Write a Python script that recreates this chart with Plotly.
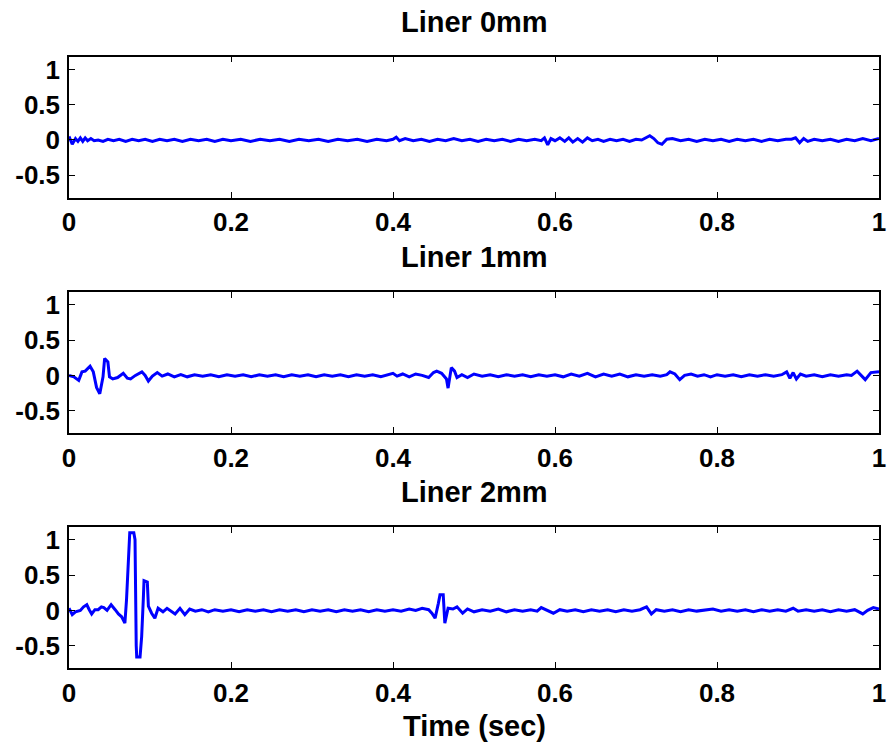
import plotly.graph_objects as go

# ---------------- data ----------------
titles = ["Liner 0mm", "Liner 1mm", "Liner 2mm"]
x_label = "Time (sec)"
x_ticks = [0, 0.2, 0.4, 0.6, 0.8, 1]
x_ticktext = ["0", "0.2", "0.4", "0.6", "0.8", "1"]
y_ticks = [-0.5, 0, 0.5, 1]
y_ticktext = ["-0.5", "0", "0.5", "1"]

t0 = [0.000, 0.004, 0.008, 0.011, 0.014, 0.017, 0.020, 0.023, 0.027, 0.031,
      0.036, 0.042, 0.048, 0.055, 0.062, 0.070, 0.078, 0.086, 0.094, 0.103,
      0.112, 0.121, 0.130, 0.140, 0.150, 0.160, 0.170, 0.180, 0.190, 0.200,
      0.212, 0.224, 0.236, 0.248, 0.260, 0.272, 0.284, 0.296, 0.308, 0.320,
      0.332, 0.344, 0.356, 0.368, 0.380, 0.392, 0.400, 0.404, 0.408, 0.415,
      0.425, 0.435, 0.445, 0.455, 0.465, 0.475, 0.485, 0.495, 0.505, 0.515,
      0.525, 0.535, 0.545, 0.555, 0.565, 0.575, 0.583, 0.587, 0.591, 0.595,
      0.600, 0.606, 0.612, 0.617, 0.622, 0.628, 0.634, 0.640, 0.646, 0.653,
      0.660, 0.668, 0.676, 0.684, 0.692, 0.700, 0.707, 0.712, 0.717, 0.722,
      0.727, 0.732, 0.738, 0.745, 0.755, 0.765, 0.775, 0.785, 0.795, 0.805,
      0.815, 0.825, 0.835, 0.845, 0.855, 0.865, 0.875, 0.885, 0.892, 0.897,
      0.902, 0.907, 0.912, 0.920, 0.930, 0.940, 0.950, 0.960, 0.970, 0.980,
      0.990, 1.000]
v0 = [0.05, -0.06, 0.02, -0.02, 0.03, -0.02, 0.03, -0.01, 0.02, -0.01,
      0.00, -0.02, 0.01, -0.01, 0.01, -0.02, 0.01, -0.01, 0.01, -0.02,
      0.01, -0.01, 0.01, -0.02, 0.01, -0.01, 0.01, -0.02, 0.01, -0.01,
      0.01, -0.02, 0.01, -0.01, 0.01, -0.02, 0.01, -0.01, 0.01, -0.02,
      0.01, -0.01, 0.01, -0.02, 0.01, -0.01, 0.01, 0.04, -0.01, 0.02,
      -0.01, 0.01, -0.02, 0.01, -0.01, 0.02, -0.01, 0.01, -0.02, 0.01,
      -0.01, 0.01, -0.02, 0.01, -0.01, 0.01, -0.01, 0.03, -0.07, 0.02,
      -0.01, 0.03, -0.02, 0.03, -0.03, 0.02, -0.03, 0.03, -0.01, 0.01,
      -0.02, 0.01, -0.01, 0.01, -0.02, 0.01, 0.00, 0.03, 0.06, 0.02,
      -0.04, -0.06, 0.01, 0.02, -0.01, 0.01, -0.02, 0.01, -0.01, 0.01,
      -0.02, 0.01, -0.01, 0.01, -0.02, 0.01, -0.01, 0.01, 0.01, 0.03,
      -0.04, 0.02, -0.02, 0.01, -0.01, 0.01, -0.02, 0.01, -0.01, 0.02,
      -0.01, 0.02]

t1 = [0.000, 0.006, 0.012, 0.016, 0.020, 0.026, 0.030, 0.034, 0.038, 0.042,
      0.044, 0.048, 0.050, 0.054, 0.060, 0.067, 0.072, 0.076, 0.082, 0.090,
      0.094, 0.098, 0.103, 0.109, 0.115, 0.122, 0.130, 0.138, 0.146, 0.155,
      0.165, 0.175, 0.185, 0.195, 0.205, 0.215, 0.225, 0.235, 0.245, 0.255,
      0.265, 0.275, 0.285, 0.295, 0.305, 0.315, 0.325, 0.335, 0.345, 0.355,
      0.365, 0.375, 0.385, 0.395, 0.400, 0.405, 0.412, 0.420, 0.428, 0.436,
      0.444, 0.450, 0.454, 0.460, 0.466, 0.468, 0.472, 0.476, 0.479, 0.485,
      0.492, 0.500, 0.510, 0.520, 0.530, 0.540, 0.550, 0.560, 0.570, 0.580,
      0.590, 0.600, 0.610, 0.620, 0.630, 0.640, 0.650, 0.660, 0.670, 0.680,
      0.690, 0.700, 0.710, 0.720, 0.730, 0.738, 0.742, 0.748, 0.754, 0.760,
      0.768, 0.776, 0.784, 0.792, 0.800, 0.810, 0.820, 0.830, 0.840, 0.850,
      0.860, 0.870, 0.880, 0.886, 0.890, 0.894, 0.898, 0.903, 0.910, 0.920,
      0.930, 0.940, 0.950, 0.960, 0.966, 0.973, 0.979, 0.983, 0.990, 1.000]
v1 = [0.00, -0.02, -0.07, 0.05, 0.06, 0.13, 0.05, -0.17, -0.26, -0.02,
      0.24, 0.19, -0.02, -0.05, -0.03, 0.03, -0.04, -0.05, 0.00, 0.05,
      0.00, -0.08, -0.01, 0.04, -0.01, 0.02, -0.02, 0.01, -0.02, 0.01,
      -0.01, 0.01, -0.02, 0.01, -0.01, 0.01, -0.02, 0.01, -0.01, 0.01,
      -0.02, 0.01, -0.01, 0.01, -0.02, 0.01, -0.01, 0.01, -0.02, 0.01,
      -0.01, 0.01, -0.02, 0.01, 0.03, -0.01, 0.02, -0.02, 0.02, 0.00,
      -0.03, 0.04, 0.06, 0.03, -0.05, -0.18, 0.11, 0.06, -0.03, 0.01,
      -0.03, 0.02, -0.01, 0.01, -0.02, 0.01, -0.01, 0.01, -0.02, 0.01,
      -0.01, 0.01, -0.02, 0.02, -0.01, 0.03, -0.02, 0.02, -0.01, 0.02,
      -0.02, 0.01, -0.01, 0.01, -0.01, 0.01, 0.05, 0.02, -0.06, 0.00,
      0.02, -0.01, 0.01, -0.02, 0.01, -0.01, 0.01, -0.02, 0.01, -0.01,
      0.01, -0.01, 0.01, 0.05, -0.04, 0.04, -0.05, 0.02, -0.01, 0.01,
      -0.02, 0.01, -0.01, 0.01, 0.00, 0.06, -0.01, -0.06, 0.04, 0.05]

t2 = [0.000, 0.004, 0.008, 0.014, 0.018, 0.022, 0.025, 0.028, 0.032, 0.036,
      0.040, 0.043, 0.047, 0.052, 0.057, 0.061, 0.065, 0.069, 0.071, 0.073,
      0.075, 0.080, 0.0815, 0.083, 0.0836, 0.0877, 0.0897, 0.0917, 0.0926, 0.0967,
      0.098, 0.102, 0.106, 0.110, 0.116, 0.121, 0.126, 0.131, 0.137, 0.143,
      0.149, 0.156, 0.164, 0.172, 0.180, 0.190, 0.200, 0.210, 0.220, 0.230,
      0.240, 0.250, 0.260, 0.270, 0.280, 0.290, 0.300, 0.310, 0.320, 0.330,
      0.340, 0.350, 0.360, 0.370, 0.380, 0.390, 0.400, 0.410, 0.420, 0.428,
      0.436, 0.444, 0.448, 0.452, 0.456, 0.458, 0.462, 0.464, 0.468, 0.474,
      0.479, 0.486, 0.492, 0.500, 0.510, 0.520, 0.530, 0.540, 0.550, 0.560,
      0.570, 0.578, 0.583, 0.590, 0.598, 0.606, 0.615, 0.625, 0.635, 0.645,
      0.655, 0.665, 0.675, 0.685, 0.695, 0.705, 0.713, 0.719, 0.725, 0.735,
      0.745, 0.755, 0.765, 0.775, 0.785, 0.795, 0.805, 0.815, 0.825, 0.835,
      0.845, 0.855, 0.865, 0.875, 0.885, 0.894, 0.900, 0.910, 0.920, 0.930,
      0.940, 0.950, 0.960, 0.970, 0.980, 0.986, 0.993, 1.000]
v2 = [0.03, -0.06, -0.02, 0.00, 0.05, 0.08, 0.01, -0.05, 0.01, 0.01,
      0.05, 0.04, 0.00, 0.08, 0.01, -0.05, -0.09, -0.18, 0.15, 0.74,
      1.10, 1.10, 1.00, -0.50, -0.66, -0.66, -0.37, 0.15, 0.42, 0.40,
      0.06, -0.04, -0.11, 0.03, -0.02, 0.03, -0.01, -0.05, 0.03, -0.06,
      0.02, -0.01, 0.01, -0.02, 0.01, -0.01, 0.01, -0.02, 0.01, -0.01,
      0.01, -0.02, 0.01, -0.01, 0.01, -0.02, 0.01, -0.01, 0.01, -0.02,
      0.01, -0.01, 0.01, -0.02, 0.01, -0.01, 0.01, -0.01, 0.02, 0.00,
      0.03, 0.01, -0.04, -0.11, 0.10, 0.22, 0.22, -0.18, 0.03, 0.02,
      0.05, -0.04, 0.02, -0.02, 0.01, -0.01, 0.02, -0.02, 0.01, -0.01,
      0.01, -0.01, 0.04, 0.00, -0.04, 0.01, -0.01, 0.01, -0.02, 0.01,
      -0.01, 0.01, -0.02, 0.01, -0.01, 0.01, 0.05, -0.05, 0.01, -0.01,
      0.01, -0.02, 0.01, -0.01, 0.01, 0.02, -0.01, 0.01, -0.01, 0.01,
      -0.02, 0.01, -0.01, 0.01, -0.01, 0.03, -0.01, 0.01, -0.01, 0.01,
      -0.02, 0.01, -0.01, 0.01, -0.05, 0.00, 0.04, 0.02]

series_t = [t0, t1, t2]
series_v = [v0, v1, v2]

# ---------------- layout ----------------
W, H = 888, 748
x_dom = [69 / W, 879 / W]
panels_px = [(56.7, 197.5), (292, 433), (527, 668)]  # (top, bottom) in px
y_range = [-0.815, 1.18]

FONT = "Liberation Sans, Arial, sans-serif"
TICK_SIZE = 26
TITLE_SIZE = 29

fig = go.Figure()
for i in range(3):
    assert len(series_t[i]) == len(series_v[i])
    ax = "" if i == 0 else str(i + 1)
    fig.add_trace(go.Scatter(
        x=series_t[i], y=series_v[i], mode="lines",
        line=dict(color="#0000ff", width=3),
        xaxis="x" + ax, yaxis="y" + ax, showlegend=False,
    ))
    top, bot = panels_px[i]
    common = dict(
        showline=True, linecolor="black", linewidth=1.5, mirror="ticks",
        ticks="inside", ticklen=6, tickwidth=1.2, tickcolor="black",
        showgrid=False, zeroline=False, automargin=False,
        tickfont=dict(family=FONT, size=TICK_SIZE, color="black", weight="bold"),
    )
    fig.layout["xaxis" + ax] = dict(
        domain=x_dom, range=[0, 1], tickvals=x_ticks, ticktext=x_ticktext,
        anchor="y" + ax, ticklabelstandoff=1, **common)
    fig.layout["yaxis" + ax] = dict(
        domain=[1 - bot / H, 1 - top / H], range=y_range,
        tickvals=y_ticks, ticktext=y_ticktext, anchor="x" + ax,
        ticklabelstandoff=2, **common)
    fig.add_annotation(
        text=titles[i], xref="paper", yref="paper",
        x=(x_dom[0] + x_dom[1]) / 2, y=1 - (top - 35) / H,
        xanchor="center", yanchor="middle", showarrow=False,
        font=dict(family=FONT, size=TITLE_SIZE, color="black", weight="bold"),
    )

fig.add_annotation(
    text=x_label, xref="paper", yref="paper",
    x=(x_dom[0] + x_dom[1]) / 2, y=1 - 726 / H,
    xanchor="center", yanchor="middle", showarrow=False,
    font=dict(family=FONT, size=TITLE_SIZE, color="black", weight="bold"),
)

fig.update_layout(
    template="none",
    width=W, height=H, margin=dict(l=0, r=0, t=0, b=0),
    paper_bgcolor="white", plot_bgcolor="white",
)
fig.write_html("out.html")
